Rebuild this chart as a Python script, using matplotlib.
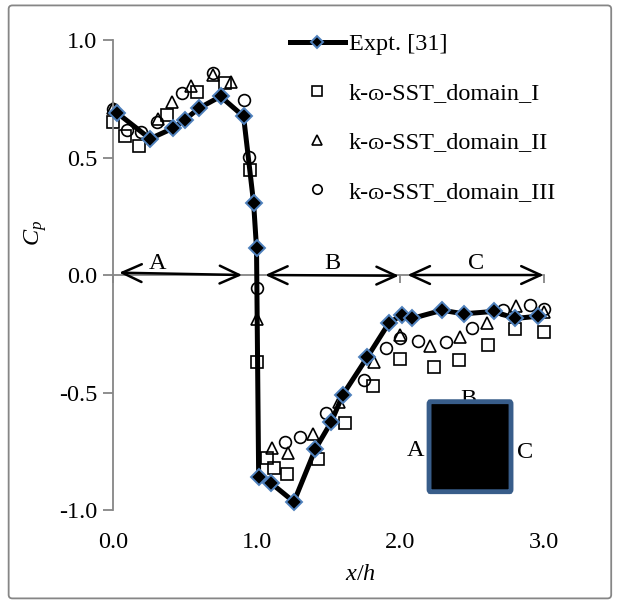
import matplotlib
matplotlib.use("Agg")
import matplotlib.pyplot as plt
from matplotlib.patches import FancyBboxPatch

plt.rcParams["font.family"] = ["Liberation Serif", "DejaVu Serif"]
plt.rcParams["mathtext.fontset"] = "custom"
plt.rcParams["mathtext.it"] = "Liberation Serif:italic"
plt.rcParams["mathtext.rm"] = "Liberation Serif"

FS = 17.5
GRAY = "#868686"

# Experimental Cp around the square cylinder
expt_x = [0.03, 0.26, 0.42, 0.50, 0.60, 0.75, 0.91, 0.98, 1.0, 1.015, 1.10, 1.26,
          1.41, 1.52, 1.60, 1.77, 1.92, 2.01, 2.08, 2.29, 2.44, 2.65, 2.80, 2.96]
expt_y = [0.69, 0.58, 0.625, 0.66, 0.71, 0.76, 0.675, 0.305, 0.115, -0.86, -0.885, -0.965,
          -0.74, -0.625, -0.51, -0.35, -0.205, -0.17, -0.185, -0.15, -0.165, -0.155, -0.185, -0.175]

# k-omega SST, domain I
dom1_x = [0.0, 0.086, 0.186, 0.376, 0.585, 0.783, 0.952, 1.0, 1.075, 1.12, 1.21, 1.43,
          1.614, 1.81, 2.0, 2.234, 2.408, 2.61, 2.797, 3.0]
dom1_y = [0.652, 0.592, 0.549, 0.681, 0.78, 0.816, 0.447, -0.372, -0.78, -0.82, -0.848, -0.784,
          -0.628, -0.472, -0.359, -0.393, -0.362, -0.298, -0.231, -0.241]

# domain II
dom2_x = [0.0, 0.318, 0.41, 0.543, 0.697, 0.822, 1.0, 1.108, 1.217, 1.394, 1.572,
          1.816, 2.0, 2.21, 2.415, 2.606, 2.808, 3.0]
dom2_y = [0.71, 0.662, 0.737, 0.804, 0.851, 0.823, -0.189, -0.735, -0.759, -0.677, -0.539,
          -0.369, -0.255, -0.302, -0.265, -0.203, -0.132, -0.156]

# domain III
dom3_x = [0.0, 0.10, 0.20, 0.31, 0.48, 0.70, 0.91, 0.945, 1.0, 1.2, 1.3, 1.486, 1.746,
          1.90, 2.0, 2.12, 2.316, 2.50, 2.717, 2.90, 3.0]
dom3_y = [0.705, 0.617, 0.61, 0.652, 0.776, 0.858, 0.745, 0.503, -0.057, -0.709, -0.69, -0.589,
          -0.447, -0.312, -0.27, -0.28, -0.284, -0.227, -0.149, -0.128, -0.146]

labels = ["Expt. [31]", "k-\u0277-SST_domain_I", "k-\u0277-SST_domain_II", "k-\u0277-SST_domain_III"]
x_ticks = [0.0, 1.0, 2.0, 3.0]
y_ticks = [-1.0, -0.5, 0.0, 0.5, 1.0]

fig = plt.figure(figsize=(6.18, 6.02), dpi=100)
ax = fig.add_axes([0.1824, 0.1528, 0.698, 0.7807])

# outer chart frame
fig.patches.append(FancyBboxPatch((0.014, 0.006), 0.975, 0.985, boxstyle="round,pad=0,rounding_size=0.006",
                                  transform=fig.transFigure, fill=False, edgecolor=GRAY, lw=1.3))

open_kw = dict(ls="none", mfc="none", mec="black", mew=1.2, ms=8.5, clip_on=False)
ax.plot(dom1_x, dom1_y, marker="s", label=labels[1], **open_kw)
ax.plot(dom2_x, dom2_y, marker="^", label=labels[2], **open_kw)
ax.plot(dom3_x, dom3_y, marker="o", label=labels[3], **open_kw)
ax.plot(expt_x, expt_y, color="black", lw=3.6, marker="D", ms=7.8, mfc="black",
        mec="#4F81BD", mew=1.4, label=labels[0], clip_on=False, zorder=5)

ax.set_xlim(0, 3)
ax.set_ylim(-1, 1)

for s in ["top", "right"]:
    ax.spines[s].set_visible(False)
ax.spines["left"].set_color(GRAY)
ax.spines["left"].set_linewidth(1.3)
ax.spines["bottom"].set_position(("data", 0))
ax.spines["bottom"].set_color(GRAY)
ax.spines["bottom"].set_linewidth(1.3)

ax.set_yticks(y_ticks)
ax.set_yticklabels([f"{v:.1f}" for v in y_ticks])
ax.tick_params(axis="y", direction="out", length=7, width=1.3, color=GRAY, labelsize=FS, pad=4)
ax.set_xticks(x_ticks)
ax.tick_params(axis="x", direction="out", length=6, width=1.3, color=GRAY, labelbottom=False)

# tick labels sit below the plot, not on the y=0 axis line
sec = ax.secondary_xaxis("bottom")
sec.set_xticks(x_ticks)
sec.set_xticklabels([f"{v:.1f}" for v in x_ticks])
sec.spines["bottom"].set_visible(False)
sec.tick_params(length=0, labelsize=FS, pad=16)

ax.set_ylabel("$C_p$", fontsize=FS)
ax.yaxis.set_label_coords(-0.148, 0.59)
fig.text(360 / 618, 1 - 575 / 602, "$x/h$", ha="center", va="center", fontsize=FS)

# face regions A, B, C
arrow = dict(arrowstyle="<->,head_length=0.7,head_width=0.32", color="black", lw=1.8,
             mutation_scale=20, shrinkA=0, shrinkB=0)
for x0, x1, y0, y1, name in [(0.045, 0.90, 0.01, 0.0, "A"), (1.06, 1.99, 0.0, -0.003, "B"),
                             (2.05, 2.997, 0.0, 0.0, "C")]:
    ax.annotate("", xy=(x1, y1), xytext=(x0, y0), arrowprops=arrow, zorder=6)
    ax.text((x0 + x1) / 2 - 0.16 if name == "A" else (x0 + x1) / 2, 0.005, name,
            ha="center", va="bottom", fontsize=FS)

# sketch of the cylinder
ax.add_patch(FancyBboxPatch((2.2, -0.922), 0.57, 0.383, boxstyle="round,pad=0,rounding_size=0.01",
                            facecolor="black", edgecolor="#385D8A", lw=3.5, zorder=7))
ax.text(2.475, -0.53, "B", ha="center", va="center", fontsize=FS, zorder=6)
ax.text(2.17, -0.745, "A", ha="right", va="center", fontsize=FS)
ax.text(2.81, -0.755, "C", ha="left", va="center", fontsize=FS)

handles, labs = ax.get_legend_handles_labels()
order = [3, 0, 1, 2]
ax.legend([handles[i] for i in order], [labs[i] for i in order], loc="upper left",
          bbox_to_anchor=(290 / 618, 1 - 33 / 602), bbox_transform=fig.transFigure,
          frameon=False, fontsize=FS, handlelength=2.26, handletextpad=0.15,
          labelspacing=1.12, borderpad=0, borderaxespad=0, markerscale=0.8)

fig.savefig("out.png", dpi=100)
